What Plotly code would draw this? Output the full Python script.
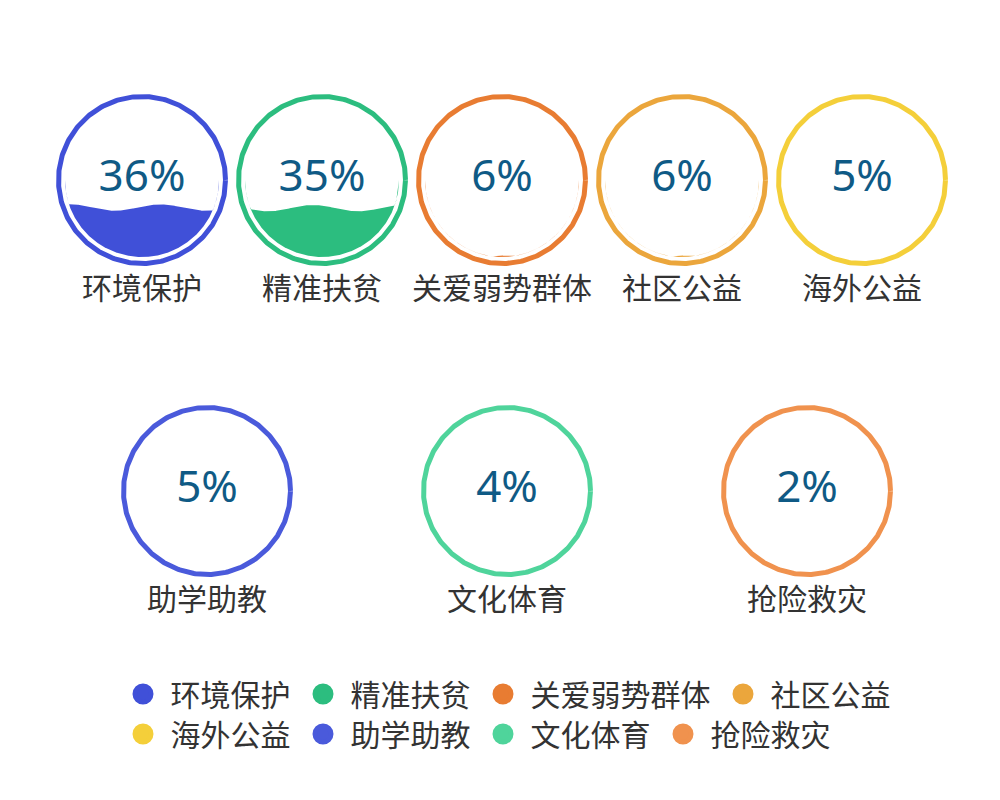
import numpy as np
import plotly.graph_objects as go

# ---------------- data ----------------
categories = ["环境保护", "精准扶贫", "关爱弱势群体", "社区公益", "海外公益",
              "助学助教", "文化体育", "抢险救灾"]
percent_values = [36, 35, 6, 6, 5, 5, 4, 2]
# height of the liquid's wave crest inside each gauge
# (fraction of the inner diameter)
fill_levels = [0.342, 0.338, 0.009, 0.009, 0.0, 0.0, 0.0, 0.0]
colors = ["#4050d8", "#2cbd7f", "#e87c32", "#eba63c", "#f4cf3a",
          "#4a5adb", "#4fd49b", "#f0924e"]
percent_labels = [f"{v}%" for v in percent_values]

# ---------------- layout / style constants ----------------
W, H = 1000, 800
PAGE_OFFSET = 8            # default body margin of the html page
row_items = [5, 3]
row_y = [180, 491]
row_x0 = [142, 207]
row_dx = [180, 300]
R_RING = 83.5
RING_W = 5
R_INNER = 77
WAVE_AMP = 3.2
WAVE_LEN = 90
wave_shift = [18, -9, 0, 0, 0, 0, 0, 0]
LABEL_DY = 111
TEXT_FONT = "Noto Sans CJK SC"
LEGEND_ITEMWIDTH = 45
LEGEND_FIRST_MARKER_X = 143
LEGEND_ROW_Y = [694, 734]

centers = []
for r, n in enumerate(row_items):
    for i in range(n):
        centers.append((row_x0[r] + row_dx[r] * i, row_y[r]))

fig = go.Figure()
theta = np.linspace(0, 2 * np.pi, 361)

for k, cat in enumerate(categories):
    cx, cy = centers[k]
    lvl = fill_levels[k]
    if lvl > 0:
        xs = np.linspace(cx - R_INNER, cx + R_INNER, 501)
        dx = xs - cx
        half = np.sqrt(np.clip(R_INNER ** 2 - dx ** 2, 0, None))
        yb = cy + half
        yt = cy - half
        crest_y = cy + R_INNER - 2 * R_INNER * lvl
        yw = crest_y + WAVE_AMP * (1 - np.cos(2 * np.pi * (dx - wave_shift[k]) / WAVE_LEN))
        top = np.minimum(np.maximum(yw, yt), yb)
        fig.add_trace(go.Scatter(
            x=np.concatenate([xs, xs[::-1]]),
            y=np.concatenate([top, yb[::-1]]),
            mode="lines", fill="toself", fillcolor=colors[k],
            line=dict(width=0, color=colors[k]),
            hoverinfo="skip", showlegend=False))
    fig.add_trace(go.Scatter(
        x=cx + R_RING * np.cos(theta), y=cy + R_RING * np.sin(theta),
        mode="lines", line=dict(color=colors[k], width=RING_W),
        hoverinfo="skip", showlegend=False))

# percentages
fig.add_trace(go.Scatter(
    x=[c[0] for c in centers], y=[c[1] for c in centers],
    mode="text", text=percent_labels,
    textfont=dict(family="Noto Sans", size=44, color="#0f5a85"),
    hoverinfo="skip", showlegend=False))

# category names under gauges
fig.add_trace(go.Scatter(
    x=[c[0] for c in centers], y=[c[1] + LABEL_DY for c in centers],
    mode="text", text=categories,
    textfont=dict(family=TEXT_FONT, size=30, color="#333333"),
    hoverinfo="skip", showlegend=False))

# legend entries (two rows of four)
for k, cat in enumerate(categories):
    fig.add_trace(go.Scatter(
        x=[None], y=[None], mode="markers", name=cat,
        marker=dict(size=16, color=colors[k], line=dict(color=colors[k], width=5)),
        legend="legend" if k < 4 else "legend2", showlegend=True))

legend_common = dict(
    orientation="h", xref="paper", yref="paper",
    xanchor="left", yanchor="middle", itemwidth=LEGEND_ITEMWIDTH,
    font=dict(family=TEXT_FONT, size=30, color="#333333"),
    bgcolor="rgba(0,0,0,0)", borderwidth=0,
    itemclick=False, itemdoubleclick=False, traceorder="normal")

# symbol centre sits at (itemwidth + 10) / 2 from the legend's left edge
LEG_X = LEGEND_FIRST_MARKER_X - (LEGEND_ITEMWIDTH + 10) / 2 - PAGE_OFFSET
fig.update_layout(
    width=W, height=H,
    margin=dict(l=0, r=0, t=0, b=0, autoexpand=False),
    paper_bgcolor="white", plot_bgcolor="white",
    xaxis=dict(range=[PAGE_OFFSET, W + PAGE_OFFSET], visible=False,
               fixedrange=True, domain=[0, 1]),
    yaxis=dict(range=[H + PAGE_OFFSET, PAGE_OFFSET], visible=False,
               fixedrange=True, domain=[0, 1]),
    showlegend=True,
    legend=dict(x=LEG_X / W, y=1 - (LEGEND_ROW_Y[0] - PAGE_OFFSET) / H, **legend_common),
    legend2=dict(x=LEG_X / W, y=1 - (LEGEND_ROW_Y[1] - PAGE_OFFSET) / H, **legend_common),
    hovermode=False,
)

fig.write_html("out.html")
